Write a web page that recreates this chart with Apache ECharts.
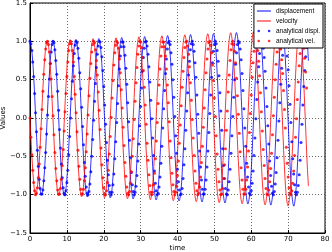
<!DOCTYPE html>
<html><head><meta charset="utf-8">
<script src="https://cdn.jsdelivr.net/npm/echarts@6/dist/echarts.min.js"></script>
<style>html,body{margin:0;padding:0;background:#fff}#c{width:332px;height:252px}</style>
</head><body><div id="c"></div>
<script>
const xTicks=[0,10,20,30,40,50,60,70,80];
const yTicks=[-1.5,-1.0,-0.5,0.0,0.5,1.0,1.5];
const seriesNames=['displacement','velocity','analytical displ.','analytical vel.'];
const lineT=[0,0.52,1.04,1.55,2.07,2.59,3.11,3.63,4.15,4.66,5.18,5.70,
6.22,6.74,7.26,7.77,8.29,8.81,9.33,9.85,10.37,10.88,11.40,11.92,
12.44,12.96,13.48,13.99,14.51,15.03,15.55,16.07,16.59,17.10,17.62,18.14,
18.66,19.18,19.70,20.21,20.73,21.25,21.77,22.29,22.81,23.32,23.84,24.36,
24.88,25.40,25.92,26.43,26.95,27.47,27.99,28.51,29.03,29.54,30.06,30.58,
31.10,31.62,32.14,32.65,33.17,33.69,34.21,34.73,35.24,35.76,36.28,36.80,
37.32,37.84,38.36,38.87,39.39,39.91,40.43,40.95,41.46,41.98,42.50,43.02,
43.54,44.06,44.58,45.09,45.61,46.13,46.65,47.17,47.68,48.20,48.72,49.24,
49.76,50.28,50.79,51.31,51.83,52.35,52.87,53.39,53.90,54.42,54.94,55.46,
55.98,56.50,57.01,57.53,58.05,58.57,59.09,59.61,60.12,60.64,61.16,61.68,
62.20,62.72,63.23,63.75,64.27,64.79,65.31,65.83,66.34,66.86,67.38,67.90,
68.42,68.93,69.45,69.97,70.49,71.01,71.53,72.04,72.56,73.08,73.60,74.12,
74.64,75.15,75.50];
const displacement=[1.000,0.867,0.501,0,-0.502,-0.870,-1.006,-0.872,-0.504,0,0.505,0.876,
1.012,0.877,0.507,0,-0.508,-0.881,-1.018,-0.882,-0.510,0,0.511,0.886,
1.025,0.889,0.514,0,-0.515,-0.892,-1.031,-0.894,-0.517,0,0.518,0.897,
1.037,0.899,0.520,0,-0.521,-0.902,-1.043,-0.904,-0.523,0,0.524,0.908,
1.050,0.910,0.526,0,-0.527,-0.914,-1.056,-0.915,-0.529,0,0.530,0.919,
1.063,0.921,0.533,0,-0.534,-0.925,-1.069,-0.927,-0.536,0,0.537,0.930,
1.076,0.933,0.539,0,-0.540,-0.936,-1.082,-0.938,-0.542,0,0.543,0.941,
1.089,0.944,0.546,0,-0.547,-0.947,-1.095,-0.949,-0.549,0,0.550,0.953,
1.102,0.955,0.552,0,-0.553,-0.960,-1.109,-0.961,-0.556,0,0.557,0.965,
1.115,0.967,0.559,0,-0.560,-0.971,-1.122,-0.973,-0.562,0,0.564,0.977,
1.129,0.979,0.566,0,-0.567,-0.983,-1.136,-0.985,-0.569,0,0.570,0.988,
1.143,0.991,0.573,0,-0.574,-0.995,-1.150,-0.997,-0.576,0,0.577,1.000,
1.157,1.003,0.745];
const velocity=[0,-0.501,-0.868,-1.003,-0.869,-0.503,0,0.504,0.873,1.009,0.875,0.506,
0,-0.507,-0.878,-1.015,-0.880,-0.509,0,0.510,0.883,1.021,0.885,0.512,
0,-0.513,-0.889,-1.028,-0.891,-0.515,0,0.516,0.895,1.034,0.896,0.518,
0,-0.519,-0.900,-1.040,-0.902,-0.521,0,0.522,0.905,1.046,0.908,0.525,
0,-0.526,-0.911,-1.053,-0.913,-0.528,0,0.529,0.916,1.059,0.918,0.531,
0,-0.532,-0.922,-1.066,-0.924,-0.534,0,0.535,0.928,1.072,0.929,0.537,
0,-0.539,-0.934,-1.079,-0.935,-0.541,0,0.542,0.939,1.085,0.941,0.544,
0,-0.545,-0.945,-1.092,-0.947,-0.547,0,0.548,0.951,1.099,0.953,0.551,
0,-0.552,-0.956,-1.105,-0.958,-0.554,0,0.555,0.962,1.112,0.964,0.557,
0,-0.559,-0.968,-1.119,-0.970,-0.561,0,0.562,0.973,1.125,0.976,0.564,
0,-0.565,-0.980,-1.133,-0.982,-0.568,0,0.569,0.986,1.139,0.987,0.571,
0,-0.572,-0.992,-1.146,-0.993,-0.575,0,0.576,0.998,1.153,0.999,0.578,
0,-0.579,-0.888];
const dotT=[0,0.25,0.5,0.75,1,1.25,1.5,1.75,2,2.25,2.5,2.75,3,3.25,3.5,3.75,4,4.25,4.5,4.75,5,5.25,5.5,5.75,6,
6.25,6.5,6.75,7,7.25,7.5,7.75,8,8.25,8.5,8.75,9,9.25,9.5,9.75,10,10.25,10.5,10.75,11,11.25,11.5,11.75,12,12.25,
12.5,12.75,13,13.25,13.5,13.75,14,14.25,14.5,14.75,15,15.25,15.5,15.75,16,16.25,16.5,16.75,17,17.25,17.5,17.75,18,18.25,18.5,
18.75,19,19.25,19.5,19.75,20,20.25,20.5,20.75,21,21.25,21.5,21.75,22,22.25,22.5,22.75,23,23.25,23.5,23.75,24,24.25,24.5,24.75,
25,25.25,25.5,25.75,26,26.25,26.5,26.75,27,27.25,27.5,27.75,28,28.25,28.5,28.75,29,29.25,29.5,29.75,30,30.25,30.5,30.75,31,
31.25,31.5,31.75,32,32.25,32.5,32.75,33,33.25,33.5,33.75,34,34.25,34.5,34.75,35,35.25,35.5,35.75,36,36.25,36.5,36.75,37,37.25,
37.5,37.75,38,38.25,38.5,38.75,39,39.25,39.5,39.75,40,40.25,40.5,40.75,41,41.25,41.5,41.75,42,42.25,42.5,42.75,43,43.25,43.5,
43.75,44,44.25,44.5,44.75,45,45.25,45.5,45.75,46,46.25,46.5,46.75,47,47.25,47.5,47.75,48,48.25,48.5,48.75,49,49.25,49.5,49.75,
50,50.25,50.5,50.75,51,51.25,51.5,51.75,52,52.25,52.5,52.75,53,53.25,53.5,53.75,54,54.25,54.5,54.75,55,55.25,55.5,55.75,56,
56.25,56.5,56.75,57,57.25,57.5,57.75,58,58.25,58.5,58.75,59,59.25,59.5,59.75,60,60.25,60.5,60.75,61,61.25,61.5,61.75,62,62.25,
62.5,62.75,63,63.25,63.5,63.75,64,64.25,64.5,64.75,65,65.25,65.5,65.75,66,66.25,66.5,66.75,67,67.25,67.5,67.75,68,68.25,68.5,
68.75,69,69.25,69.5,69.75,70,70.25,70.5,70.75,71,71.25,71.5,71.75,72,72.25,72.5,72.75,73,73.25,73.5,73.75,74,74.25,74.5,74.75,
75];
const analyticalDispl=[1.00,0.97,0.88,0.73,0.54,0.32,0.07,-0.18,-0.42,-0.63,-0.80,-0.92,-0.99,-0.99,-0.94,-0.82,-0.65,-0.45,-0.21,0.04,0.28,0.51,0.71,0.86,0.96,
1.00,0.98,0.89,0.75,0.57,0.35,0.10,-0.15,-0.39,-0.60,-0.78,-0.91,-0.98,-1.00,-0.95,-0.84,-0.68,-0.48,-0.24,0.00,0.25,0.48,0.68,0.84,0.95,
1.00,0.98,0.91,0.78,0.59,0.38,0.14,-0.11,-0.35,-0.58,-0.76,-0.90,-0.98,-1.00,-0.96,-0.86,-0.70,-0.50,-0.28,-0.03,0.22,0.45,0.66,0.83,0.94,
1.00,0.99,0.92,0.80,0.62,0.41,0.17,-0.08,-0.32,-0.55,-0.74,-0.88,-0.97,-1.00,-0.97,-0.87,-0.73,-0.53,-0.31,-0.06,0.19,0.42,0.64,0.81,0.93,
0.99,0.99,0.93,0.82,0.65,0.44,0.20,-0.05,-0.29,-0.52,-0.71,-0.87,-0.96,-1.00,-0.97,-0.89,-0.75,-0.56,-0.34,-0.10,0.15,0.39,0.61,0.79,0.91,
0.99,1.00,0.94,0.83,0.67,0.47,0.23,-0.01,-0.26,-0.49,-0.69,-0.85,-0.95,-1.00,-0.98,-0.90,-0.77,-0.59,-0.37,-0.13,0.12,0.36,0.58,0.77,0.90,
0.98,1.00,0.96,0.85,0.70,0.50,0.27,0.02,-0.23,-0.46,-0.67,-0.83,-0.94,-1.00,-0.99,-0.92,-0.79,-0.61,-0.40,-0.16,0.09,0.33,0.56,0.74,0.89,
0.97,1.00,0.96,0.87,0.72,0.53,0.30,0.05,-0.20,-0.43,-0.64,-0.81,-0.93,-0.99,-0.99,-0.93,-0.81,-0.64,-0.43,-0.19,0.06,0.30,0.53,0.72,0.87,
0.96,1.00,0.97,0.88,0.74,0.55,0.33,0.09,-0.16,-0.40,-0.62,-0.79,-0.92,-0.99,-1.00,-0.94,-0.83,-0.67,-0.46,-0.23,0.02,0.27,0.50,0.70,0.85,
0.96,1.00,0.98,0.90,0.76,0.58,0.36,0.12,-0.13,-0.37,-0.59,-0.77,-0.90,-0.98,-1.00,-0.95,-0.85,-0.69,-0.49,-0.26,-0.01,0.24,0.47,0.67,0.84,
0.95,1.00,0.99,0.91,0.79,0.61,0.39,0.15,-0.10,-0.34,-0.56,-0.75,-0.89,-0.98,-1.00,-0.96,-0.86,-0.71,-0.52,-0.29,-0.04,0.20,0.44,0.65,0.82,
0.93,0.99,0.99,0.93,0.81,0.63,0.42,0.18,-0.06,-0.31,-0.53,-0.73,-0.87,-0.97,-1.00,-0.97,-0.88,-0.74,-0.55,-0.32,-0.08,0.17,0.41,0.62,0.80,
0.92];
const analyticalVel=[0.00,-0.25,-0.48,-0.68,-0.84,-0.95,-1.00,-0.98,-0.91,-0.78,-0.60,-0.38,-0.14,0.11,0.35,0.57,0.76,0.90,0.98,1.00,0.96,0.86,0.71,0.51,0.28,
0.03,-0.22,-0.45,-0.66,-0.82,-0.94,-0.99,-0.99,-0.92,-0.80,-0.62,-0.41,-0.17,0.08,0.32,0.54,0.73,0.88,0.97,1.00,0.97,0.88,0.73,0.54,0.31,
0.07,-0.18,-0.42,-0.63,-0.80,-0.93,-0.99,-0.99,-0.93,-0.82,-0.65,-0.44,-0.21,0.04,0.29,0.52,0.71,0.86,0.96,1.00,0.98,0.89,0.75,0.56,0.34,
0.10,-0.15,-0.39,-0.61,-0.78,-0.91,-0.99,-1.00,-0.95,-0.84,-0.68,-0.47,-0.24,0.01,0.26,0.49,0.69,0.85,0.95,1.00,0.98,0.91,0.77,0.59,0.37,
0.13,-0.12,-0.36,-0.58,-0.76,-0.90,-0.98,-1.00,-0.96,-0.85,-0.70,-0.50,-0.27,-0.02,0.22,0.46,0.66,0.83,0.94,1.00,0.99,0.92,0.79,0.62,0.40,
0.17,-0.08,-0.33,-0.55,-0.74,-0.88,-0.97,-1.00,-0.97,-0.87,-0.72,-0.53,-0.30,-0.06,0.19,0.43,0.64,0.81,0.93,0.99,0.99,0.93,0.81,0.64,0.43,
0.20,-0.05,-0.30,-0.52,-0.72,-0.87,-0.96,-1.00,-0.97,-0.89,-0.75,-0.56,-0.33,-0.09,0.16,0.40,0.61,0.79,0.92,0.99,1.00,0.94,0.83,0.67,0.46,
0.23,-0.02,-0.26,-0.49,-0.69,-0.85,-0.95,-1.00,-0.98,-0.90,-0.77,-0.58,-0.37,-0.12,0.13,0.37,0.59,0.77,0.90,0.98,1.00,0.95,0.85,0.69,0.49,
0.26,0.02,-0.23,-0.47,-0.67,-0.83,-0.94,-1.00,-0.99,-0.92,-0.79,-0.61,-0.40,-0.16,0.09,0.34,0.56,0.75,0.89,0.97,1.00,0.96,0.87,0.72,0.52,
0.29,0.05,-0.20,-0.44,-0.65,-0.81,-0.93,-0.99,-0.99,-0.93,-0.81,-0.64,-0.43,-0.19,0.06,0.30,0.53,0.72,0.87,0.97,1.00,0.97,0.88,0.74,0.55,
0.33,0.08,-0.17,-0.41,-0.62,-0.79,-0.92,-0.99,-1.00,-0.94,-0.83,-0.66,-0.46,-0.22,0.03,0.27,0.50,0.70,0.86,0.96,1.00,0.98,0.90,0.76,0.58,
0.36,0.11,-0.13,-0.38,-0.59,-0.77,-0.91,-0.98,-1.00,-0.95,-0.85,-0.69,-0.49,-0.25,-0.01,0.24,0.47,0.68,0.84,0.95,1.00,0.99,0.91,0.78,0.60,
0.39];

const pair=(t,v)=>t.map((x,i)=>[x,v[i]]);
const lineIcon='path://M0,0M0,2.5L14,2.5L14,3.5L0,3.5ZM14,6';
const dotsIcon='path://M0,0M0.5,3a1.3,1.3 0 1,0 2.6,0a1.3,1.3 0 1,0 -2.6,0ZM10.9,3a1.3,1.3 0 1,0 2.6,0a1.3,1.3 0 1,0 -2.6,0ZM14,6';
const fmt=v=>(v<0?'\u2212':'')+Math.abs(v).toFixed(1);
const chart=echarts.init(document.getElementById('c'),null,{renderer:'canvas'});
chart.setOption({
  animation:false,
  backgroundColor:'#fff',
  grid:{left:30,right:7,top:3,bottom:19,containLabel:false,outerBoundsMode:'none',
    show:true,borderColor:'#000',borderWidth:1,backgroundColor:'transparent'},
  legend:{orient:'vertical',align:'left',right:9,top:4,z:20,itemWidth:14,itemHeight:6,itemGap:2,padding:[3,3,3,3],
    borderColor:'#000',borderWidth:1,backgroundColor:'#fff',borderRadius:0,
    textStyle:{fontFamily:'Liberation Sans',fontSize:6.5,color:'#000',lineHeight:8},
    data:[{name:seriesNames[0],icon:lineIcon},{name:seriesNames[1],icon:lineIcon},
          {name:seriesNames[2],icon:dotsIcon},{name:seriesNames[3],icon:dotsIcon}]},
  xAxis:{type:'value',min:xTicks[0],max:xTicks[xTicks.length-1],interval:10,
    name:'time',nameLocation:'middle',nameGap:11.5,nameMoveOverlap:false,
    nameTextStyle:{fontFamily:'DejaVu Sans',fontSize:7,color:'#000'},
    axisLine:{show:true,onZero:false,lineStyle:{color:'#000',width:1}},
    axisTick:{show:true,inside:true,length:3,lineStyle:{color:'#000'}},
    axisLabel:{fontFamily:'DejaVu Sans',fontSize:7,color:'#000',margin:3},
    splitLine:{show:true,lineStyle:{color:'#444',type:[1,2],width:0.8}}},
  yAxis:{type:'value',min:yTicks[0],max:yTicks[yTicks.length-1],interval:0.5,
    name:'Values',nameLocation:'middle',nameGap:23,nameRotate:90,nameMoveOverlap:false,
    nameTextStyle:{fontFamily:'DejaVu Sans',fontSize:7,color:'#000'},
    axisLine:{show:true,onZero:false,lineStyle:{color:'#000',width:1}},
    axisTick:{show:true,inside:true,length:3,lineStyle:{color:'#000'}},
    axisLabel:{fontFamily:'DejaVu Sans',fontSize:7,color:'#000',margin:3,formatter:fmt},
    splitLine:{show:true,lineStyle:{color:'#444',type:[1,2],width:0.8}}},
  series:[
    {name:seriesNames[0],type:'line',data:pair(lineT,displacement),showSymbol:false,smooth:0.35,
      lineStyle:{color:'#0000ff',width:1,opacity:0.8},itemStyle:{color:'#0000ff'},z:2},
    {name:seriesNames[1],type:'line',data:pair(lineT,velocity),showSymbol:false,smooth:0.35,
      lineStyle:{color:'#ff0000',width:1,opacity:0.8},itemStyle:{color:'#ff0000'},z:2},
    {name:seriesNames[2],type:'scatter',data:pair(dotT,analyticalDispl),symbol:'circle',symbolSize:3,
      itemStyle:{color:'#0000ff'},z:3},
    {name:seriesNames[3],type:'scatter',data:pair(dotT,analyticalVel),symbol:'circle',symbolSize:3,
      itemStyle:{color:'#ff0000'},z:3}
  ]
});
</script></body></html>
